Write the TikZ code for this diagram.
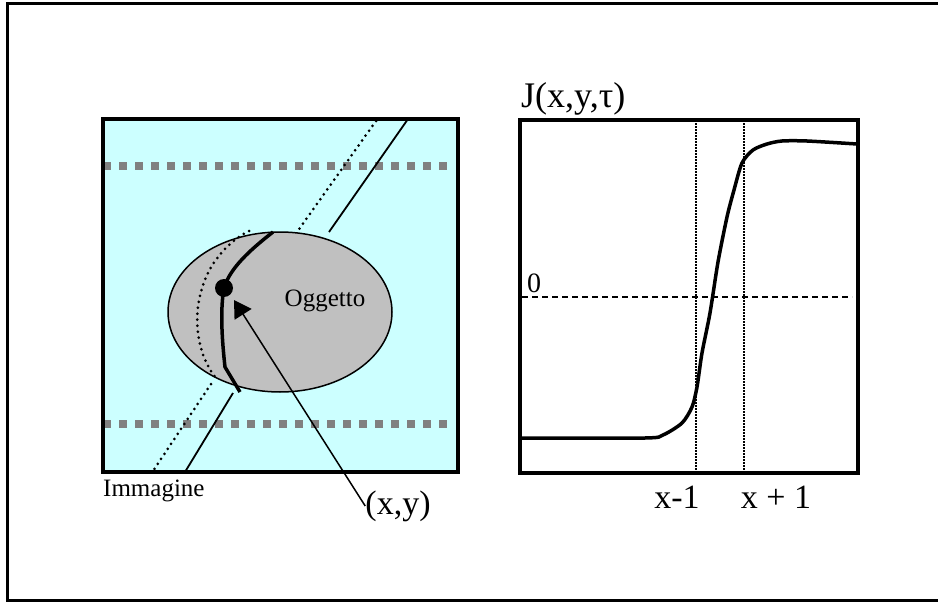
\documentclass[tikz,border=0pt]{standalone}
\usepackage{fontspec}
\setmainfont{Liberation Serif}
\usepackage{xcolor}
\usetikzlibrary{arrows.meta, positioning, calc}
\definecolor{skyfill}{HTML}{CCFFFF}
\definecolor{objfill}{HTML}{C0C0C0}
\definecolor{scangray}{HTML}{808080}

\begin{document}
\begin{tikzpicture}[
          x=1pt, y=-1pt,
          panel/.style={line width=3.5pt},
          scan/.style={scangray, line width=8pt, dash pattern=on 8pt off 8pt},
          edgeline/.style={line width=1.8pt},
          dotline/.style={line width=3pt, dash pattern=on 0pt off 6pt, line cap=round},
          contour/.style={line width=3.5pt, line join=round},
          small/.style={inner sep=0pt, font=\fontsize{25}{30}\selectfont},
          big/.style={inner sep=0pt, font=\fontsize{34}{40}\selectfont}
        ]
          \useasboundingbox (0,0) rectangle (938,602);
          \draw[line width=3pt] (7,4) rectangle (945,600);
          % image with the object
          \fill[skyfill] (103,119) rectangle (458,472);
          \draw[scan] (103,166) -- (447,166);
          \draw[scan] (103,424) -- (447,424);
          \draw[fill=objfill, line width=1.5pt] (280,312) ellipse [x radius=112, y radius=80];
          \draw[dotline] (376,121) -- (297,232);
          \draw[dotline] (249,231) .. controls (190,262) and (185,340) .. (216,378);
          \draw[dotline] (211,384) -- (153,471);
          \draw[edgeline] (408,119) -- (329,232);
          \draw[edgeline] (233,393) -- (185,472);
          \draw[contour] (273,232) .. controls (250,250) and (230,268) .. (224,288)
            .. controls (220,310) and (222,340) .. (225,367) -- (240,392);
          \fill (224,288) circle (9);
          \draw[panel] (103,119) rectangle (458,472);
          \node[small, anchor=base] (obj) at (325,306) {Oggetto};
          \node[small, anchor=base west] (img) at (103,496) {Immagine};
          \node[big] (xy) at (398,506) {(x,y)};
          \coordinate (tip) at (234,300);
          \draw[line width=1.5pt, -{Triangle[length=17pt, width=20pt]}] (xy.west) -- (tip);
          % response curve
          \draw[line width=1.2pt, dash pattern=on 1.5pt off 1.5pt] (696,120) -- (696,473);
          \draw[line width=1.2pt, dash pattern=on 1.5pt off 1.5pt] (744,120) -- (744,473);
          \draw[line width=1.5pt, dash pattern=on 6pt off 4pt] (522,297) -- (852,297);
          \draw[contour] plot[smooth, tension=0.45] coordinates {(522,438) (645,438) (663,435)
            (682,423) (692,407) (697,387) (702,353) (710,313) (718,262) (727,217)
            (734,190) (742,163) (753,150) (767,144) (782,141) (807,141) (857,144)};
          \draw[panel] (520,120) rectangle (858,473);
          \node[inner sep=0pt, font=\fontsize{36}{40}\selectfont, anchor=base west] (jlab) at (521,107) {J(x,y,τ)};
          \node[inner sep=0pt, font=\fontsize{28}{32}\selectfont, anchor=base west] (zero) at (527,292) {0};
          \node[big] (xm) at (677,497) {x-1};
          \node[big] (xp) at (776,497) {x + 1};
        \end{tikzpicture}
\end{document}
